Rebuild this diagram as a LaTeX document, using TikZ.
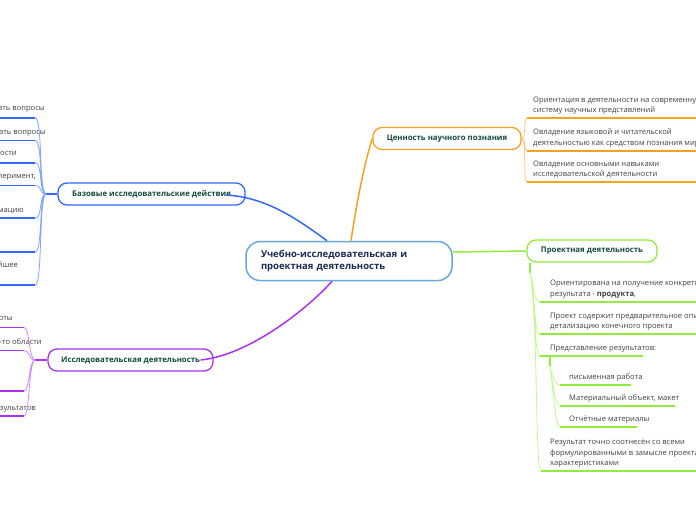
\documentclass[tikz,border=0pt]{standalone}
\usepackage{fontspec}
\setmainfont{Open Sans}
\usetikzlibrary{calc}
\definecolor{rootline}{RGB}{104,168,222}
\definecolor{roottext}{RGB}{28,42,84}
\definecolor{hubtext}{RGB}{20,74,60}
\definecolor{leaftext}{RGB}{64,64,64}
\definecolor{bblue}{RGB}{52,104,246}
\definecolor{bbluefan}{RGB}{130,165,255}
\definecolor{ppurple}{RGB}{172,48,240}
\definecolor{ppurplefan}{RGB}{204,140,250}
\definecolor{oorange}{RGB}{248,160,32}
\definecolor{oorangefan}{RGB}{250,200,130}
\definecolor{ggreen}{RGB}{146,236,62}
\definecolor{ggreenfan}{RGB}{196,246,150}
\begin{document}
\begin{tikzpicture}[x = 1pt, y = -1pt,
		hub/.style = {draw, line width = 1.3pt, rounded corners = 9pt, fill = white, minimum height = 22pt, inner sep = 0pt, text = hubtext, font = \fontsize{7.8}{10}\selectfont\bfseries},
		leaf/.style = {anchor = south west, align = left, inner xsep = 6pt, inner ysep = 2pt, text = leaftext, font = \fontsize{7.6}{10.5}\selectfont, execute at begin node = \strut, execute at end node = \strut},
		cut/.style = {anchor = east, inner sep = 0pt, text = leaftext, font = \fontsize{7.6}{10.5}\selectfont},
		uline/.style = {line width = 1.8pt},
		fan/.style = {line width = 0.8pt}]
		\useasboundingbox (0,0) rectangle (696,520);
		\clip (0,0) rectangle (696,520);

		% main topic and branches
		\node [draw = rootline, line width = 1.5pt, rounded corners = 14pt, fill = white, minimum height = 39pt, text width = 176pt, inner xsep = 15pt, align = left, text = roottext, font = \fontsize{9.5}{12.5}\selectfont\bfseries] (root) at (349,261) {Учебно-исследовательская и\\проектная деятельность};
		\node [hub, draw = oorange, minimum width = 148pt] (value) at (447,138.5) {Ценность научного познания};
		\node [hub, draw = bblue, minimum width = 187pt] (basic) at (151.5,194) {Базовые исследовательские действия};
		\node [hub, draw = ppurple, minimum width = 165pt] (research) at (130.5,360) {Исследовательская деятельность};
		\node [hub, draw = ggreen, minimum width = 130pt] (project) at (592,251) {Проектная деятельность};

		% orange leaves
		\node [leaf] (o1) at (527,118.3) {Ориентация в деятельности на современную\\систему научных представлений};
		\node [leaf] (o2) at (527,150.7) {Овладение языковой и читательской\\деятельностью как средством познания мира};
		\node [leaf] (o3) at (527,182.3) {Овладение основными навыками\\исследовательской деятельности};
		\draw [oorange, uline] (o1.south west) -- ++(180,0) (o2.south west) -- ++(180,0) (o3.south west) -- ++(180,0);
		\draw [oorangefan, fan] (value.east) .. controls +(5,0) and +(-4,0) .. (o1.south west)
			(value.east) .. controls +(5,0) and +(-4,0) .. (o2.south west)
			(value.east) .. controls +(5,0) and +(-4,0) .. (o3.south west);

		% blue leaves
		\node [cut] (b1) at (45,109.3) {использовать вопросы};
		\node [cut] (b2) at (46,132.7) {формулировать вопросы};
		\node [cut] (b3) at (17,154.3) {выявлять закономерности};
		\node [cut] (b4) at (36,177.7) {проводить опыт, эксперимент,};
		\node [cut] (b5) at (24,210) {обобщать информацию};
		\node [cut] (b7) at (18,266) {прогнозировать дальнейшее};
		\coordinate (bl1) at (35,117.7);
		\coordinate (bl2) at (35,140.5);
		\coordinate (bl3) at (35,162.7);
		\coordinate (bl4) at (35,185.5);
		\coordinate (bl5) at (35,218.3);
		\coordinate (bl6) at (35,252);
		\coordinate (bl7) at (35,285);
		\coordinate (bfork) at ($(basic.west)+(-11,0)$);
		\draw [bblue, uline] (basic.west) -- (bfork);
		\draw [bblue, uline] (bl1) -- ++(-60,0) (bl2) -- ++(-60,0) (bl3) -- ++(-60,0) (bl4) -- ++(-60,0)
			(bl5) -- ++(-60,0) (bl6) -- ++(-60,0) (bl7) -- ++(-60,0);
		\draw [bbluefan, fan] (bfork) .. controls +(-8,0) and +(8,0) .. (bl1)
			(bfork) .. controls +(-8,0) and +(8,0) .. (bl2)
			(bfork) .. controls +(-8,0) and +(8,0) .. (bl3)
			(bfork) .. controls +(-8,0) and +(8,0) .. (bl4)
			(bfork) .. controls +(-8,0) and +(8,0) .. (bl5)
			(bfork) .. controls +(-8,0) and +(8,0) .. (bl6)
			(bfork) .. controls +(-8,0) and +(8,0) .. (bl7);

		% purple leaves
		\node [cut] (r1) at (13,318.3) {этапы работы};
		\node [cut] (r2) at (42,341.7) {из какой-то области};
		\node [cut] (r4) at (36,409.3) {представление результатов};
		\coordinate (rl1) at (24,327.5);
		\coordinate (rl2) at (24,350.5);
		\coordinate (rl3) at (24,391);
		\coordinate (rl4) at (24,416);
		\coordinate (rfork) at ($(research.west)+(-12,0)$);
		\draw [ppurple, uline] (research.west) -- (rfork);
		\draw [ppurple, uline] (rl1) -- ++(-40,0) (rl2) -- ++(-40,0) (rl3) -- ++(-40,0) (rl4) -- ++(-40,0);
		\draw [ppurplefan, fan] (rfork) .. controls +(-7,0) and +(6,0) .. (rl1)
			(rfork) .. controls +(-7,0) and +(6,0) .. (rl2)
			(rfork) .. controls +(-7,0) and +(6,0) .. (rl3)
			(rfork) .. controls +(-7,0) and +(6,0) .. (rl4);

		% green leaves
		\node [leaf, inner xsep = 10pt] (g1) at (540,301.7) {Ориентирована на получение конкретного\\результата - \textbf{продукта},};
		\node [leaf, inner xsep = 10pt] (g2) at (540,334.3) {Проект содержит предварительное описание и\\детализацию конечного проекта};
		\node [leaf, inner xsep = 10pt] (g3) at (540,356) {Представление результатов:};
		\node [leaf, inner xsep = 9pt] (p1) at (560,385) {письменная работа};
		\node [leaf, inner xsep = 9pt] (p2) at (560,405.7) {Материальный объект, макет};
		\node [leaf, inner xsep = 9pt] (p3) at (560,427.3) {Отчётные материалы};
		\node [leaf, inner xsep = 9pt] (g4) at (541,471) {Результат точно соотнесён со всеми\\формулированными в замысле проекта\\характеристиками};
		\draw [ggreen, uline] (g1.south west) -- ++(170,0) (g2.south west) -- ++(170,0) (g3.south west) -- ++(103,0)
			(p1.south west) -- ++(71,0) (p2.south west) -- ++(115,0) (p3.south west) -- ++(77,0) (g4.south west) -- ++(170,0);
		\coordinate (gfork) at ($(project.south west)+(4,0)$);
		\coordinate (gstem) at ($(gfork)+(0,10)$);
		\coordinate (sfork) at ($(g3.south west)+(10,0)$);
		\coordinate (sstem) at ($(sfork)+(0,10)$);
		\draw [ggreen, uline] (gfork) -- (gstem) (sfork) -- (sstem);
		\draw [ggreenfan, fan] (gstem) .. controls +(3,12) and +(-6,0) .. (g1.south west)
			(gstem) .. controls +(5,25) and +(-6,0) .. (g2.south west)
			(gstem) .. controls +(6,35) and +(-6,0) .. (g3.south west)
			(gstem) .. controls +(8,60) and +(-6,0) .. (g4.south west)
			(sstem) .. controls +(1,6) and +(-5,0) .. (p1.south west)
			(sstem) .. controls +(2,12) and +(-5,0) .. (p2.south west)
			(sstem) .. controls +(3,20) and +(-5,0) .. (p3.south west);

		% branches from the main topic
		\draw [bblue, line width = 1.5pt] ($(root.north)+(-22,0)$) .. controls +(-30,-22) and +(40,2) .. ($(basic.east)+(-20,1)$);
		\draw [oorange, line width = 1.5pt] ($(root.north)+(2,0)$) .. controls +(6,-40) and +(-8,25) .. (value.west);
		\draw [ppurple, line width = 1.5pt] ($(root.south)+(-17,0)$) .. controls +(-22,25) and +(50,-5) .. ($(research.east)+(-13,0)$);
		\draw [ggreen, line width = 1.5pt] ($(root.east)+(0,-9)$) -- (project.west);
	\end{tikzpicture}
\end{document}
